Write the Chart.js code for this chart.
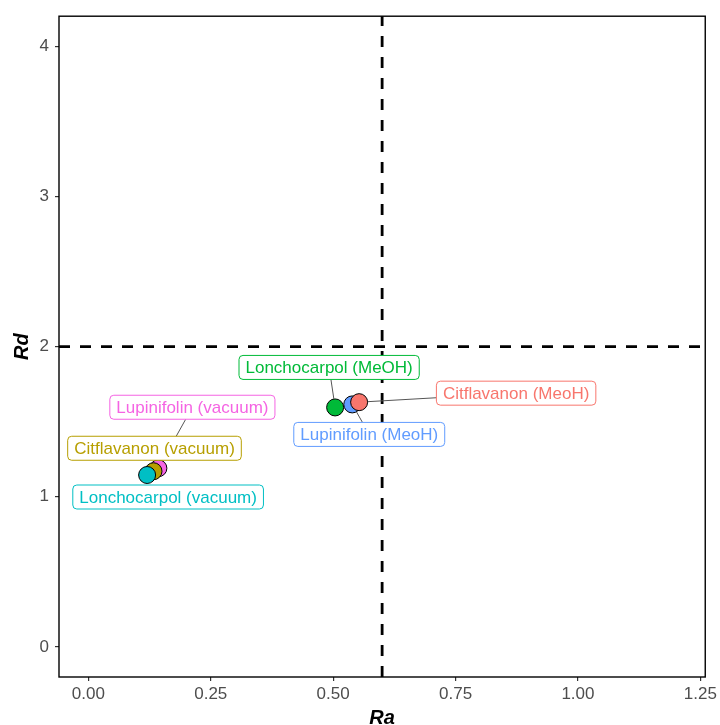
<!DOCTYPE html>
<html>
<head>
<meta charset="utf-8">
<script src="https://cdn.jsdelivr.net/npm/chart.js@4.4.0/dist/chart.umd.min.js"></script>
<style>
  body { margin: 0; background: #fff; }
  #wrap { width: 720px; height: 725px; }
</style>
</head>
<body>
<div id="wrap"><canvas id="mycanvas"></canvas></div>
<script>
// sample names, drawn in this order (later ones sit on top)
var names = ['Lonchocarpol (MeOH)', 'Lupinifolin (MeoH)', 'Citflavanon (MeoH)',
             'Lupinifolin (vacuum)', 'Citflavanon (vacuum)', 'Lonchocarpol (vacuum)'];
var raValues = [0.504, 0.539, 0.553, 0.143, 0.133, 0.120];
var rdValues = [1.595, 1.615, 1.630, 1.190, 1.170, 1.145];
var colors = ['#00BA38', '#619CFF', '#F8766D', '#F564E3', '#B79F00', '#00BFC4'];

var xTicks = [0, 0.25, 0.5, 0.75, 1, 1.25];
var yTicks = [0, 1, 2, 3, 4];
var raCut = 0.6;   // vertical dashed line
var rdCut = 2;     // horizontal dashed line

// where the repelled labels ended up, in px from their point
var labelDx = [-6, 17, 157, 34, 1, 21];
var labelDy = [-40, 30, -9, -61, -23, 22];

var fontFam = '"Liberation Sans", Arial, sans-serif';

var points = [];
for (var i = 0; i < names.length; i++) {
  points.push({ x: raValues[i], y: rdValues[i] });
}

var refLines = {
  id: 'refLines',
  beforeDatasetsDraw: function(chart) {
    var ctx = chart.ctx, a = chart.chartArea;
    var x = chart.scales.x.getPixelForValue(raCut);
    var y = chart.scales.y.getPixelForValue(rdCut);
    ctx.save();
    ctx.strokeStyle = '#000';
    ctx.lineWidth = 2.8;
    ctx.setLineDash([11, 10]);
    ctx.beginPath();
    ctx.moveTo(a.left, y); ctx.lineTo(a.right, y);
    ctx.moveTo(x, a.bottom); ctx.lineTo(x, a.top);
    ctx.stroke();
    ctx.restore();
  },
  afterDraw: function(chart) {
    var ctx = chart.ctx, a = chart.chartArea;
    ctx.save();
    ctx.strokeStyle = '#000';
    ctx.lineWidth = 1.4;
    ctx.strokeRect(a.left, a.top, a.right - a.left, a.bottom - a.top);
    ctx.restore();
  }
};

var repelLabels = {
  id: 'repelLabels',
  afterDatasetsDraw: function(chart) {
    var ctx = chart.ctx;
    var meta = chart.getDatasetMeta(0);
    var r = 8.5;
    ctx.save();
    ctx.font = '17px ' + fontFam;
    var boxes = [];
    for (var i = 0; i < names.length; i++) {
      var p = meta.data[i];
      var w = ctx.measureText(names[i]).width + 13;
      var h = 24;
      boxes.push({ cx: p.x + labelDx[i], cy: p.y + labelDy[i], w: w, h: h, px: p.x, py: p.y });
    }
    // segments first (short ones are skipped, like ggrepel does)
    ctx.strokeStyle = '#555';
    ctx.lineWidth = 1;
    boxes.forEach(function(b) {
      var dx = b.px - b.cx, dy = b.py - b.cy;
      var d = Math.sqrt(dx * dx + dy * dy);
      var t = Math.min(dx !== 0 ? (b.w / 2) / Math.abs(dx) : 1e9, dy !== 0 ? (b.h / 2) / Math.abs(dy) : 1e9);
      if (t >= 1) return;
      var len = d * (1 - t) - r;
      if (len < 7) return;
      var sx = b.cx + dx * t, sy = b.cy + dy * t;
      var ex = b.px - dx / d * r, ey = b.py - dy / d * r;
      ctx.beginPath();
      ctx.moveTo(sx, sy);
      ctx.lineTo(ex, ey);
      ctx.stroke();
    });
    // then the boxes
    ctx.textAlign = 'center';
    ctx.textBaseline = 'middle';
    boxes.forEach(function(b, i) {
      ctx.beginPath();
      ctx.roundRect(b.cx - b.w / 2, b.cy - b.h / 2, b.w, b.h, 4);
      ctx.fillStyle = '#fff';
      ctx.fill();
      ctx.strokeStyle = colors[i];
      ctx.lineWidth = 1;
      ctx.stroke();
      ctx.fillStyle = colors[i];
      ctx.fillText(names[i], b.cx, b.cy + 1);
    });
    ctx.restore();
  }
};

var ctx = document.getElementById('mycanvas');

var scatter = new Chart(ctx, {
  type: 'scatter',
  data: {
    datasets: [{
      data: points,
      backgroundColor: colors,
      borderColor: '#000',
      borderWidth: 1,
      pointRadius: 8.5,
      pointHoverRadius: 8.5
    }]
  },
  options: {
    responsive: true,
    maintainAspectRatio: false,
    animation: false,
    events: [],
    layout: { padding: { top: 14, right: 14, left: 0, bottom: 0 } },
    plugins: {
      legend: { display: false },
      tooltip: { enabled: false }
    },
    scales: {
      x: {
        type: 'linear',
        min: -0.06,
        max: 1.26,
        afterFit: function(scale) { scale.height = 48; },
        afterBuildTicks: function(scale) {
          scale.ticks = xTicks.map(function(v) { return { value: v }; });
        },
        ticks: {
          callback: function(v) { return Number(v).toFixed(2); },
          color: '#4D4D4D',
          font: { family: fontFam, size: 17 },
          padding: 3,
          maxRotation: 0
        },
        grid: { display: true, drawOnChartArea: false, drawTicks: true, tickLength: 4, color: '#333', lineWidth: 1.2 },
        border: { display: false },
        title: {
          display: true,
          text: 'Ra',
          color: '#000',
          font: { family: fontFam, size: 20, weight: 'bold', style: 'italic' },
          padding: { top: 0, bottom: -5 }
        }
      },
      y: {
        type: 'linear',
        min: -0.2,
        max: 4.2,
        afterFit: function(scale) { scale.width = 59; },
        afterBuildTicks: function(scale) {
          scale.ticks = yTicks.map(function(v) { return { value: v }; });
        },
        ticks: {
          color: '#4D4D4D',
          font: { family: fontFam, size: 17 },
          padding: 6
        },
        grid: { display: true, drawOnChartArea: false, drawTicks: true, tickLength: 4, color: '#333', lineWidth: 1.2 },
        border: { display: false },
        title: {
          display: true,
          text: 'Rd',
          color: '#000',
          font: { family: fontFam, size: 20, weight: 'bold', style: 'italic' },
          padding: { top: 10, bottom: 0 }
        }
      }
    }
  },
  plugins: [refLines, repelLabels]
});
</script>
</body>
</html>
